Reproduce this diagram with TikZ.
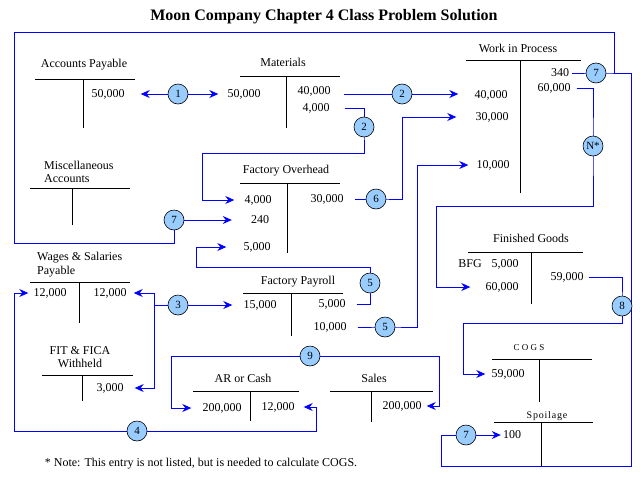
\documentclass[tikz,border=0pt]{standalone}
\usepackage{fontspec}
\setmainfont{Liberation Serif}
\usepackage{tikz}
\usetikzlibrary{arrows.meta,backgrounds}
\definecolor{mcWire}{HTML}{0000FF}
\definecolor{mcDisc}{HTML}{99CCFF}
\tikzset{
  mc diagram/.style={x=1pt, y=-1pt, font=\fontsize{12}{13}\selectfont,
    line join=miter},
  mc entry/.style={inner sep=1pt},
  mc head/.style={inner sep=1pt},
  mc rule/.style={draw=black, line width=0.8pt},
  mc wire/.style={draw=mcWire, line width=0.9pt},
  mc arrow/.style={mc wire, -{Stealth[length=9pt,width=8pt,inset=3pt]}},
  mc mark/.style={circle, draw=black, fill=mcDisc, line width=0.6pt,
    minimum size=20pt, inner sep=0pt, font=\fontsize{11}{11}\selectfont}
}

\begin{document}
\begin{tikzpicture}[mc diagram]
\useasboundingbox (0,0) rectangle (640,480);
\node[font=\fontsize{16}{18}\selectfont\bfseries] (title) at (324,17) {Moon Company Chapter 4 Class Problem Solution};

% T-account rules: left/right of top bar, bar height, stem x, stem foot
\foreach \xa/\xb/\yh/\xv/\yb in {35/135/79/83/128, 240/340/76/286/128,
    466/581/60/520/193, 240/340/183/287/253, 30/130/188/72/225,
    30/130/282/79/323, 42/133/375/82/401, 243/343/293/291/336,
    193/299/391/250/421, 330/433/391/371/422, 468/583/252/531/304,
    492/592/359/539/402, 494/593/422/541/466}
  \draw[mc rule] (\xa,\yh) -- (\xb,\yh) (\xv,\yh) -- (\xv,\yb);

% account titles
\node[mc head] (apHead) at (84,65) {Accounts Payable};
\node[mc head] (matHead) at (283,62) {Materials};
\node[mc head] (wipHead) at (518,48) {Work in Process};
\node[mc head] (foHead) at (286,171) {Factory Overhead};
\node[mc head, anchor=west, align=left] (miscHead) at (43,171.5) {Miscellaneous\\Accounts};
\node[mc head, anchor=west, align=left, font=\fontsize{12}{14}\selectfont] (wspHead) at (36,265) {Wages \& Salaries\\Payable};
\node[mc head, align=center] (fitHead) at (80,357) {FIT \& FICA\\Withheld};
\node[mc head] (fpHead) at (298,282) {Factory Payroll};
\node[mc head] (arHead) at (243,378) {AR or Cash};
\node[mc head] (salHead) at (374,378) {Sales};
\node[mc head] (fgHead) at (531,238) {Finished Goods};
\node[mc head, font=\fontsize{9}{10}\selectfont] (cogsHead) at (529,348) {C O G S};
\node[mc head, font=\fontsize{10}{11}\selectfont\addfontfeature{LetterSpace=8}] (spHead) at (547,416) {Spoilage};

% entries
\node[mc entry] (ap50) at (108,94) {50,000};
\node[mc entry] (mat50) at (244,94) {50,000};
\node[mc entry] (mat40) at (314,91) {40,000};
\node[mc entry] (mat4) at (316,108) {4,000};
\node[mc entry] (wip40) at (491,95) {40,000};
\node[mc entry] (wip30) at (492,117) {30,000};
\node[mc entry] (wip10) at (493,165) {10,000};
\node[mc entry] (wip340) at (560,73) {340};
\node[mc entry] (wip60) at (554,88) {60,000};
\node[mc entry] (fo4) at (258,200) {4,000};
\node[mc entry] (fo240) at (260,220) {240};
\node[mc entry] (fo5) at (257,247) {5,000};
\node[mc entry] (fo30) at (327,199) {30,000};
\node[mc entry] (wsp12l) at (50,293) {12,000};
\node[mc entry] (wsp12r) at (110,293) {12,000};
\node[mc entry] (fit3) at (110,388) {3,000};
\node[mc entry] (fp15) at (260,305) {15,000};
\node[mc entry] (fp5) at (332,304) {5,000};
\node[mc entry] (fp10) at (330,327) {10,000};
\node[mc entry] (fgBfg) at (470,264) {BFG};
\node[mc entry] (fg5) at (505,264) {5,000};
\node[mc entry] (fg60) at (502,287) {60,000};
\node[mc entry] (fg59) at (567,277) {59,000};
\node[mc entry] (cogs59) at (508,374) {59,000};
\node[mc entry] (sp100) at (512,435) {100};
\node[mc entry] (ar200) at (222,408) {200,000};
\node[mc entry] (ar12) at (278,407) {12,000};
\node[mc entry] (sal200) at (402,406) {200,000};

% numbered transactions
\node[mc mark] (c1) at (178,94) {1};
\node[mc mark] (c2a) at (402,94) {2};
\node[mc mark] (c2b) at (364,127) {2};
\node[mc mark] (c3) at (178,305) {3};
\node[mc mark] (c4) at (137,431) {4};
\node[mc mark] (c5a) at (370,283) {5};
\node[mc mark] (c5b) at (385,327) {5};
\node[mc mark] (c6) at (376,199) {6};
\node[mc mark] (c7a) at (596,73) {7};
\node[mc mark] (c7b) at (174,220) {7};
\node[mc mark] (c7c) at (466,435) {7};
\node[mc mark] (c8) at (622,306) {8};
\node[mc mark] (c9) at (310,356) {9};
\node[mc mark] (cn) at (593,146) {N*};

\node (note) at (201,464) {* Note: This entry is not listed, but is needed to calculate COGS.};

\begin{scope}[on background layer]
\draw[mc arrow, shorten >=15pt] (c1.center) -- (ap50.east);
\draw[mc arrow, shorten >=8pt] (c1.center) -- (mat50.west);
\draw[mc arrow, shorten <=12pt, shorten >=15pt] (c2a.center -| mat40.east) -- (c2a.center -| wip40.west);
\draw[mc arrow, shorten <=14pt, shorten >=9pt] (mat4.east) -| (c2b.center) -- ++(0,26) -| ([xshift=-41pt]fo4.west) -- (fo4.west);
\draw[mc arrow, shorten >=10pt] (c3.center) -- (fp15.west);
\draw[mc arrow, shorten >=6pt] (c3.center) -- ++(-24,0) |- (wsp12r.east);
\draw[mc arrow, shorten >=10pt] (c3.center) -- ++(-24,0) |- (fit3.east);
\draw[mc arrow, shorten >=4pt] (c4.center) -- ++(-123,0) |- (wsp12l.west);
\draw[mc arrow, shorten >=8pt] (c4.center) -- ++(179,0) |- (ar12.east);
\draw[mc arrow, shorten <=10pt, shorten >=16pt] (fp5.east) -| (c5a.center) -- ++(0,-16) -| ([xshift=-46pt]fo5.west) -- (fo5.west);
\draw[mc arrow, shorten <=10pt, shorten >=7pt] (fp10.east) -- (c5b.center) -- ++(32,0) |- (wip10.west);
\draw[mc arrow, shorten <=10pt, shorten >=18pt] (fo30.east) -- (c6.center) -- ++(26,0) |- (wip30.west);
\draw[mc arrow, shorten <=2pt, shorten >=1pt] (wip340.east) -- (c7a.center) -- ++(35,0) -- ++(0,393) -| ([xshift=-25pt]c7c.center) -- (sp100.west);
\draw[mc arrow, shorten >=18pt] ([xshift=18pt]c7a.center) -- ++(0,-41) -- ++(-600,0) -- ++(0,211) -| (c7b.center) -- (fo240.west);
\draw[mc arrow, shorten <=4pt, shorten >=5pt] (fg59.east) -| (c8.center) -- ++(0,17) -| ([xshift=-27pt]cogs59.west) -- (cogs59.west);
\draw[mc arrow, shorten >=10pt] (c9.center) -- ++(-139,0) |- (ar200.west);
\draw[mc arrow, shorten >=4pt] (c9.center) -- ++(129,0) |- (sal200.east);
\draw[mc arrow, shorten <=5pt, shorten >=14pt] (wip60.east) -| (cn.center) -- ++(0,60) -| ([xshift=-48pt]fg60.west) -- (fg60.west);
\end{scope}
\end{tikzpicture}
\end{document}
